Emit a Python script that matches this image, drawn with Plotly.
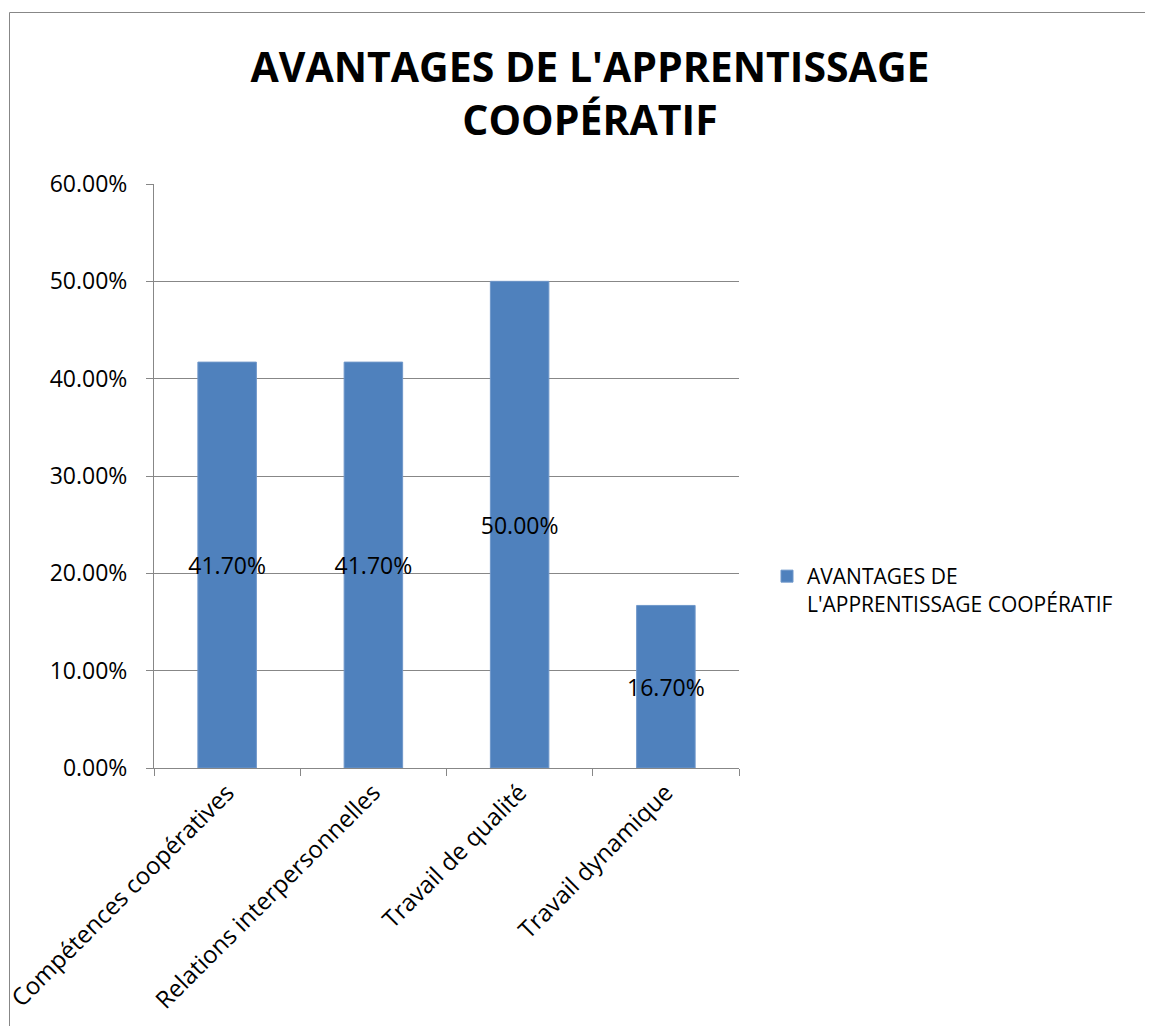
import plotly.graph_objects as go

categories = ["Compétences coopératives", "Relations interpersonnelles",
              "Travail de qualité", "Travail dynamique"]
values = [0.417, 0.417, 0.50, 0.167]
series_name = "AVANTAGES DE<br>L'APPRENTISSAGE COOPÉRATIF"
title_text = "AVANTAGES DE L'APPRENTISSAGE<br>COOPÉRATIF"

FONT = "Open Sans, Liberation Sans, Arial, sans-serif"
GRAY = "#878787"
BAR = "#4F81BD"

# page offset (body margin) compensation
OX, OY = 7, 8
W, H = 1153, 1026
L, R, T, B = 153 - OX, 738 - OX, 184 - OY, 768 - OY


def px_x(p):
    return (p - OX - L) / (R - L)


def px_y(p):
    return (B - (p - OY)) / (B - T)


fig = go.Figure()
fig.add_trace(go.Bar(
    x=categories, y=values, name=series_name,
    marker=dict(color=BAR, line=dict(color="#6F97CA", width=1)),
    texttemplate="%{y:.2%}", textposition="inside", insidetextanchor="middle",
    textangle=0, constraintext="none",
    insidetextfont=dict(family=FONT, size=23, color="#000000"),
    showlegend=True,
))

fig.update_layout(
    width=W, height=H,
    margin=dict(l=L, r=W - R, t=T, b=H - B, pad=0, autoexpand=False),
    paper_bgcolor="white", plot_bgcolor="white",
    font=dict(family=FONT, size=23, color="#000000"),
    title=dict(text=title_text, x=(589 - OX) / W, xanchor="center",
               y=1 - (82 - OY) / H, yanchor="top",
               font=dict(family=FONT, size=41, color="#000000", weight="bold")),
    bargap=0.6,
    showlegend=True,
    legend=dict(x=px_x(766), xanchor="left", y=px_y(556), yanchor="top",
                valign="top", font=dict(family=FONT, size=21, color="#000000"),
                bgcolor="rgba(0,0,0,0)", itemwidth=30),
    xaxis=dict(type="category", tickson="boundaries", ticks="outside", ticklen=7,
               tickcolor=GRAY, showline=True, linecolor=GRAY, linewidth=1,
               showgrid=False, tickangle=-45, automargin=False,
               tickfont=dict(family=FONT, size=24, color="#000000")),
    yaxis=dict(range=[0, 0.6], dtick=0.1, tick0=0, tickformat=".2%",
               ticks="outside", ticklen=7, tickcolor=GRAY,
               showline=True, linecolor=GRAY, linewidth=1,
               showgrid=True, gridcolor=GRAY, gridwidth=1, zeroline=False,
               ticklabelstandoff=14, automargin=False,
               tickfont=dict(family=FONT, size=23, color="#000000")),
    shapes=[dict(type="rect", xref="paper", yref="paper",
                 x0=px_x(8.5), x1=px_x(1175), y0=px_y(1045), y1=px_y(12.5),
                 line=dict(color=GRAY, width=1), fillcolor="rgba(0,0,0,0)",
                 layer="below")],
)

fig.write_html("out.html")
